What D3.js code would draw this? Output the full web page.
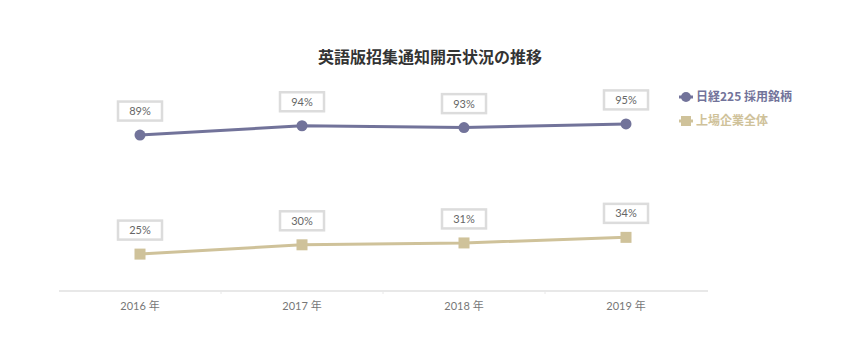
<!DOCTYPE html>
<html><head><meta charset="utf-8">
<script src="https://cdn.jsdelivr.net/npm/d3@7"></script>
<style>body{margin:0;background:#fff;}svg{display:block;font-family:"Noto Sans CJK JP","Noto Sans",sans-serif;}</style>
</head><body><svg id="c" width="860" height="360"></svg>
<script>
const categories = ["2016 年", "2017 年", "2018 年", "2019 年"];
const seriesNames = ["日経225 採用銘柄", "上場企業全体"];
const nikkeiValues = [89, 94, 93, 95];
const allValues = [25, 30, 31, 34];
const seriesColors = ["#72739a", "#cfc29a"];

const svg = d3.select("#c");
const x = d3.scaleBand().domain(categories).range([59, 707]);
const y = d3.scaleLinear().domain([0, 100]).range([300.6, 114.6]);

svg.append("text").attr("x", 430).attr("y", 63).attr("text-anchor", "middle")
  .attr("font-size", 16).attr("font-weight", "bold").attr("fill", "#333").text("英語版招集通知開示状況の推移");

// axis
const ax = svg.append("g").attr("transform", "translate(0,291)")
  .call(d3.axisBottom(x).tickSize(0).tickPadding(11));
ax.select(".domain").attr("stroke", "#e8e8e8").attr("stroke-width", 2).attr("d", "M59,0H708");
ax.selectAll("text").attr("font-size", 11).attr("fill", "#777").attr("font-family", "Lato, 'Noto Sans CJK JP', sans-serif");
const bounds = categories.slice(1).map(c => x(c));
ax.selectAll(".sep").data(bounds).enter().append("line").attr("class","sep")
  .attr("x1", d => d).attr("x2", d => d).attr("y1", 0).attr("y2", 3).attr("stroke", "#e8e8e8").attr("stroke-width", 1);

const series = [nikkeiValues, allValues];
const cx = c => x(c) + x.bandwidth() / 2;
series.forEach((vals, si) => {
  const data = categories.map((c, i) => ({c, v: vals[i]}));
  svg.append("path").datum(data)
    .attr("d", d3.line().x(d => cx(d.c)).y(d => y(d.v)))
    .attr("fill", "none").attr("stroke", seriesColors[si]).attr("stroke-width", 3);
  const g = svg.append("g");
  if (si === 0) {
    g.selectAll("circle").data(data).enter().append("circle")
      .attr("cx", d => cx(d.c)).attr("cy", d => y(d.v)).attr("r", 5.5).attr("fill", seriesColors[si]);
  } else {
    g.selectAll("rect").data(data).enter().append("rect")
      .attr("x", d => cx(d.c) - 5.5).attr("y", d => y(d.v) - 5.5).attr("width", 11).attr("height", 11).attr("fill", seriesColors[si]);
  }
  const lab = svg.append("g").selectAll("g").data(data).enter().append("g")
    .attr("transform", d => `translate(${cx(d.c)},${y(d.v) - 24})`);
  lab.append("rect").attr("x", -22).attr("y", -9.5).attr("width", 44).attr("height", 19)
    .attr("fill", "#fff").attr("stroke", "#dcdcdc").attr("stroke-width", 2.5);
  lab.append("text").attr("text-anchor", "middle").attr("dy", "0.36em")
    .attr("font-size", 11).attr("fill", "#666").attr("font-family", "Lato, sans-serif").text(d => d.v + "%");
});

// legend
const leg = svg.append("g").selectAll("g").data(seriesNames).enter().append("g")
  .attr("transform", (d, i) => `translate(686,${97 + i * 24})`);
leg.append("line").attr("x1", -7).attr("x2", 7).attr("stroke", (d, i) => seriesColors[i]).attr("stroke-width", 3);
leg.each(function(d, i) {
  const s = d3.select(this);
  if (i === 0) s.append("circle").attr("r", 5).attr("fill", seriesColors[i]);
  else s.append("rect").attr("x", -5).attr("y", -5).attr("width", 10).attr("height", 10).attr("fill", seriesColors[i]);
});
leg.append("text").attr("x", 10).attr("dy", "0.35em").attr("font-size", 12).attr("font-weight", "bold")
  .attr("fill", (d, i) => seriesColors[i]).text(d => d);
</script></body></html>
